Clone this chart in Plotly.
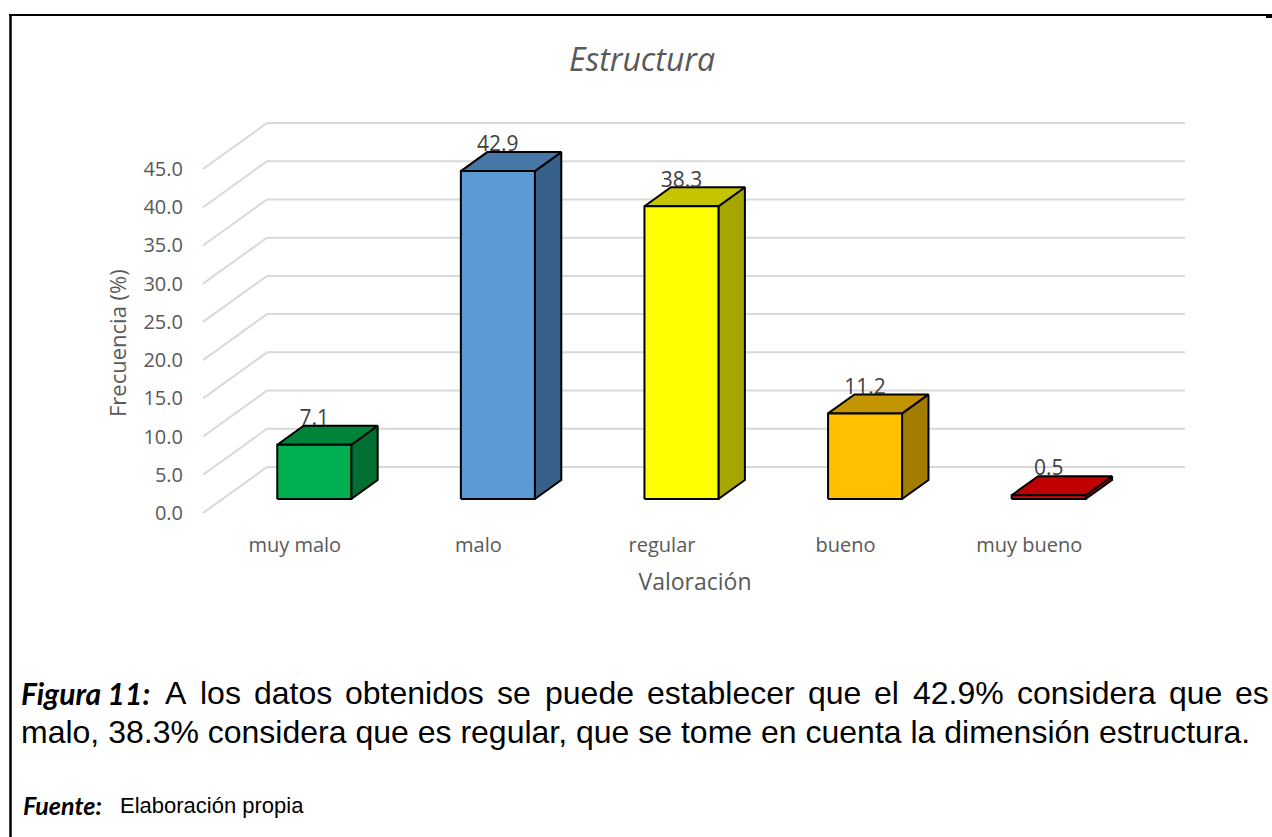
import plotly.graph_objects as go

# ---------------- data ----------------
categories = ["muy malo", "malo", "regular", "bueno", "muy bueno"]
values = [7.1, 42.9, 38.3, 11.2, 0.5]
front_colors = ["#00B050", "#5B9BD5", "#FFFF00", "#FFC000", "#E60000"]
top_colors = ["#00843A", "#4677A6", "#C4C400", "#C49400", "#C00000"]
side_colors = ["#006F31", "#376089", "#A6A600", "#A37C00", "#9E0000"]
y_tickvals = [0, 5, 10, 15, 20, 25, 30, 35, 40, 45]
y_ticktext = ["0.0", "5.0", "10.0", "15.0", "20.0", "25.0", "30.0", "35.0", "40.0", "45.0"]
title_text = "Estructura"
x_title = "Valoración"
y_title = "Frecuencia (%)"
caption_lead = "Figura 11:"
caption_line1 = "A los datos obtenidos se puede establecer que el 42.9% considera que es"
caption_line2 = "malo, 38.3% considera que es regular, que se tome en cuenta la dimensión estructura."
source_lead = "Fuente:"
source_text = "Elaboración propia"

# ---------------- geometry (pixel layout of the 3-D projection) ----------------
W, H = 1272, 837
L, R, T, B = 190, 1200, 100, 531          # plot area in pixels
PX_PER_X = 183.6                          # pixels per category
PX_PER_Y = 7.644                          # pixels per value unit
ZERO_PX = 513                             # pixel row of value 0 on the front plane
X0_PX = 203                               # pixel of x = -0.5 on the front plane
DEPTH_PX = (64, 46)                       # depth vector of the floor (right, up)
F1, F2 = 0.304, 0.717                     # bar front/back depth fractions
HALF_W = 37 / PX_PER_X

x_lo = -0.5 - (X0_PX - L) / PX_PER_X
x_hi = x_lo + (R - L) / PX_PER_X
y_hi = (ZERO_PX - T) / PX_PER_Y
y_lo = (ZERO_PX - B) / PX_PER_Y
DX = DEPTH_PX[0] / PX_PER_X
DY = DEPTH_PX[1] / PX_PER_Y


def px_x(p):
    return (p - L) / (R - L)


def px_y(p):
    return (B - p) / (B - T)


fig = go.Figure()

# back-wall gridlines with diagonal floor/side-wall segments
gx, gy = [], []
n = len(categories)
for t in y_tickvals:
    gx += [-0.5, -0.5 + DX, n - 0.5 + DX, None]
    gy += [t, t + DY, t + DY, None]
fig.add_trace(go.Scatter(x=gx, y=gy, mode="lines",
                         line=dict(color="#D9D9D9", width=2),
                         hoverinfo="skip", showlegend=False))

# 3-D columns
for i, (cat, v) in enumerate(zip(categories, values)):
    c = i + F1 * DX
    f1y = F1 * DY
    f2y = F2 * DY
    ddx = (F2 - F1) * DX
    xl, xr = c - HALF_W, c + HALF_W
    # side face
    fig.add_trace(go.Scatter(
        x=[xr, xr, xr + ddx, xr + ddx, xr],
        y=[f1y, v + f1y, v + f2y, f2y, f1y],
        mode="lines", fill="toself", fillcolor=side_colors[i],
        line=dict(color="black", width=2), hoverinfo="skip", showlegend=False))
    # top face
    fig.add_trace(go.Scatter(
        x=[xl, xr, xr + ddx, xl + ddx, xl],
        y=[v + f1y, v + f1y, v + f2y, v + f2y, v + f1y],
        mode="lines", fill="toself", fillcolor=top_colors[i],
        line=dict(color="black", width=2), hoverinfo="skip", showlegend=False))
    # front face
    fig.add_trace(go.Scatter(
        x=[xl, xr, xr, xl, xl],
        y=[f1y, f1y, v + f1y, v + f1y, f1y],
        mode="lines", fill="toself", fillcolor=front_colors[i],
        line=dict(color="black", width=2), name=cat, showlegend=False))

# data labels
lab_x = [i + F1 * DX for i in range(n)]
lab_y = [v + F2 * DY + 6 / PX_PER_Y for v in values]
fig.add_trace(go.Scatter(
    x=lab_x, y=lab_y, mode="text", text=[f"{v:.1f}" for v in values],
    textposition="middle center",
    textfont=dict(family="Open Sans", size=21, color="#404040"),
    hoverinfo="skip", showlegend=False))

fig.update_layout(
    width=W, height=H,
    margin=dict(l=L, r=W - R, t=T, b=H - B),
    paper_bgcolor="white", plot_bgcolor="white",
    showlegend=False,
    title=dict(text=f"<i>{title_text}</i>", x=642 / W, xref="container",
               y=1 - 60 / H, yref="container", xanchor="center", yanchor="middle",
               font=dict(family="Open Sans", size=32, color="#595959")),
    xaxis=dict(range=[x_lo, x_hi], tickvals=list(range(n)), ticktext=categories,
               showgrid=False, zeroline=False, showline=False, ticks="",
               tickfont=dict(family="Open Sans", size=20, color="#595959"),
               title=dict(text=x_title, standoff=16,
                          font=dict(family="Open Sans", size=23, color="#595959"))),
    yaxis=dict(range=[y_lo, y_hi], tickvals=y_tickvals, ticktext=y_ticktext,
               showgrid=False, zeroline=False, showline=False, ticks="",
               ticklabelstandoff=6,
               tickfont=dict(family="Open Sans", size=20, color="#595959")),
)

# y-axis title
fig.add_annotation(text=y_title, textangle=-90, xref="paper", yref="paper",
                   x=px_x(117), y=px_y(343), xanchor="center", yanchor="middle",
                   showarrow=False,
                   font=dict(family="Open Sans", size=22, color="#595959"))

# frame lines
fig.add_shape(type="line", xref="paper", yref="paper",
              x0=px_x(9), x1=px_x(1266), y0=px_y(15), y1=px_y(15),
              line=dict(color="black", width=2))
fig.add_shape(type="line", xref="paper", yref="paper",
              x0=px_x(10.5), x1=px_x(10.5), y0=px_y(14), y1=px_y(840),
              line=dict(color="black", width=2.5))
fig.add_shape(type="rect", xref="paper", yref="paper",
              x0=px_x(1266), x1=px_x(1273), y0=px_y(14), y1=px_y(18),
              fillcolor="black", line=dict(width=0))

# caption: justified first line
ARIAL = {"A": 667, "l": 222, "o": 556, "s": 500, "d": 556, "a": 556, "t": 278,
         "b": 556, "e": 556, "n": 556, "i": 222, "p": 556, "u": 556, "c": 500,
         "r": 333, "q": 556, "4": 556, "2": 556, ".": 278, "9": 556, "%": 889}
CAP_SIZE = 32
words = caption_line1.split(" ")
widths = [sum(ARIAL.get(ch, 556) for ch in w) / 1000 * CAP_SIZE for w in words]
x_start, x_end = 163, 1267
gap = (x_end - x_start - sum(widths)) / (len(words) - 1)
xpos = x_start
for w, wd in zip(words, widths):
    fig.add_annotation(text=w, xref="paper", yref="paper", x=px_x(xpos), y=px_y(693),
                       xanchor="left", yanchor="middle", showarrow=False,
                       font=dict(family="Liberation Sans", size=CAP_SIZE, color="black"))
    xpos += wd + gap

fig.add_annotation(text=f"<b><i>{caption_lead}</i></b>", xref="paper", yref="paper",
                   x=px_x(19), y=px_y(693), xanchor="left", yanchor="middle",
                   showarrow=False,
                   font=dict(family="Lato", size=30, color="black"))
fig.add_annotation(text=caption_line2, xref="paper", yref="paper",
                   x=px_x(19), y=px_y(732), xanchor="left", yanchor="middle",
                   showarrow=False,
                   font=dict(family="Liberation Sans", size=CAP_SIZE, color="black"))
fig.add_annotation(text=f"<b><i>{source_lead}</i></b>", xref="paper", yref="paper",
                   x=px_x(21), y=px_y(805), xanchor="left", yanchor="middle",
                   showarrow=False,
                   font=dict(family="Lato", size=25, color="black"))
fig.add_annotation(text=source_text, xref="paper", yref="paper",
                   x=px_x(118), y=px_y(805), xanchor="left", yanchor="middle",
                   showarrow=False,
                   font=dict(family="Liberation Sans", size=22, color="black"))

fig.write_html("out.html", config={"displayModeBar": False},
               post_script="document.body.style.margin='0px';")
